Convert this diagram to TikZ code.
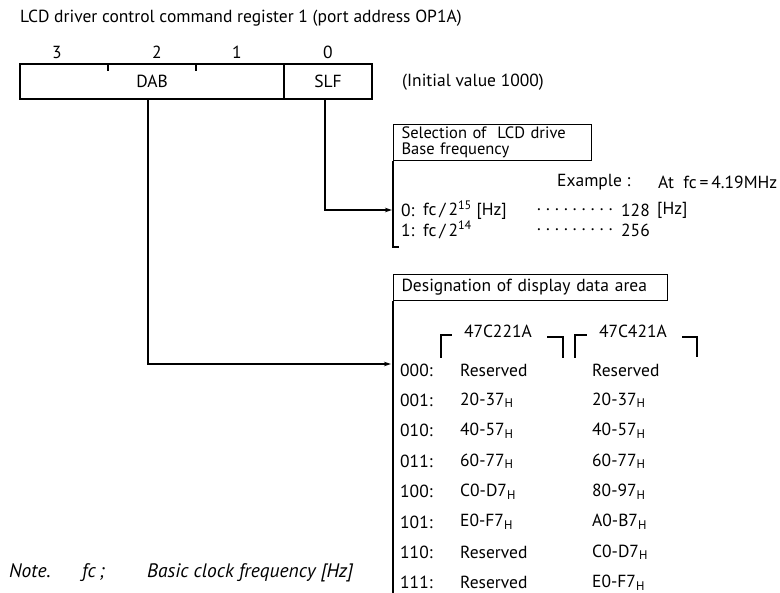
\documentclass[tikz,border=0pt]{standalone}
\usepackage{fontspec}
\setmainfont{PT Sans}
\usetikzlibrary{arrows.meta}
\newcommand\Hs{\raisebox{-0.3ex}{\fontsize{12.5}{12.5}\selectfont H}}
\newcommand\dotrow{\foreach\k in {1,...,8}{.\hspace{5.2pt}}.}
\begin{document}
\begin{tikzpicture}[x=1pt,y=-1pt,
  every node/.style={font=\fontsize{17.5}{17.5}\selectfont, inner sep=0pt},
  ln/.style={line width=1.1pt},
  conn/.style={ln,-{Stealth[length=7pt,width=4.5pt]}},
  lbl/.style={anchor=west},
  cell/.style={draw,line width=1.1pt,minimum height=35pt}]
\useasboundingbox (0,0) rectangle (780,593);
% title
\node[lbl] (title) at (20,18) {LCD driver control command register 1 (port address OP1A)};
% bit numbers
\node (b3) at (57,52) {3};
\node (b2) at (157,52) {2};
\node (b1) at (237,52) {1};
\node (b0) at (328,52) {0};
% register
\node[cell,minimum width=264pt] (dab) at (152,81.5) {DAB};
\node[cell,minimum width=88pt] (slf) at (328,81.5) {SLF};
\draw[ln] (108,64) -- (108,71);
\draw[ln] (196,64) -- (196,71);
\node[lbl] (init) at (402,82) {(Initial value 1000)};
% selection box
\node[draw,line width=1.1pt,anchor=north west,minimum width=190pt,minimum height=36pt,
      align=left,text width=182pt,inner xsep=8pt,font=\fontsize{16.5}{16.5}\selectfont] (sel) at (393,124)
  {Selection of \ LCD drive\\Base frequency};
\coordinate (selbot) at (393,247);
\draw[ln] (sel.south west) -- (selbot) -- ++(6,0);
\coordinate (selin) at (392,210);
\draw[conn] ([xshift=-3pt]slf.south) |- (selin);
\node[lbl] (ex1) at (557,182) {Example :};
\node[lbl] (ex2) at (658,182) {At\ \ fc\,=\,4.19MHz};
\node[lbl] (s0) at (401,210) {0:};
\node[lbl] (s0f) at (423,210) {fc\,/\,2\textsuperscript{15} [Hz]};
\node[lbl] (s0d) at (537,210) {\dotrow};
\node[lbl] (s0v) at (621,210) {128};
\node[lbl] (s0u) at (657,210) {[Hz]};
\node[lbl] (s1) at (401,230) {1:};
\node[lbl] (s1f) at (423,230) {fc\,/\,2\textsuperscript{14}};
\node[lbl] (s1d) at (537,230) {\dotrow};
\node[lbl] (s1v) at (621,230) {256};
% designation box
\node[draw,line width=1.1pt,anchor=north west,minimum width=274pt,minimum height=26pt,
      text width=258pt,inner xsep=8pt,align=left] (des) at (393,274)
  {Designation of display data area};
\coordinate (desbot) at (393,593);
\draw[ln] (des.south west) -- (desbot);
\coordinate (desin) at (391,364);
\draw[conn] ([xshift=-4pt]dab.south) |- (desin);
% brackets
\node (c1) at (498,331) {47C221A};
\node (c2) at (633,331) {47C421A};
\draw[ln] (441,358) -- (441,335) -- (452,335);
\draw[ln] (547,337) -- (563,337) -- (563,358);
\draw[ln] (575,358) -- (575,335) -- (587,335);
\draw[ln] (682,337) -- (697,337) -- (697,357);
% table rows
\foreach \c/\a/\b [count=\i from 0] in {000/Reserved/Reserved, 001/20-37\Hs/20-37\Hs,
   010/40-57\Hs/40-57\Hs, 011/60-77\Hs/60-77\Hs, 100/C0-D7\Hs/80-97\Hs,
   101/E0-F7\Hs/A0-B7\Hs, 110/Reserved/C0-D7\Hs, 111/Reserved/E0-F7\Hs} {
  \node[lbl] (r\i) at (400,{370+30.4*\i}) {\c:};
  \node[lbl] (ra\i) at (460,{370+30.4*\i}) {\a};
  \node[lbl] (rb\i) at (592,{370+30.4*\i}) {\b};
}
% note
\node[lbl,font=\fontsize{19.5}{19.5}\selectfont\itshape] (note) at (9,573)
  {\makebox[73pt][l]{Note.}\makebox[65pt][l]{fc\,;}Basic clock frequency [Hz]};
\end{tikzpicture}
\end{document}
